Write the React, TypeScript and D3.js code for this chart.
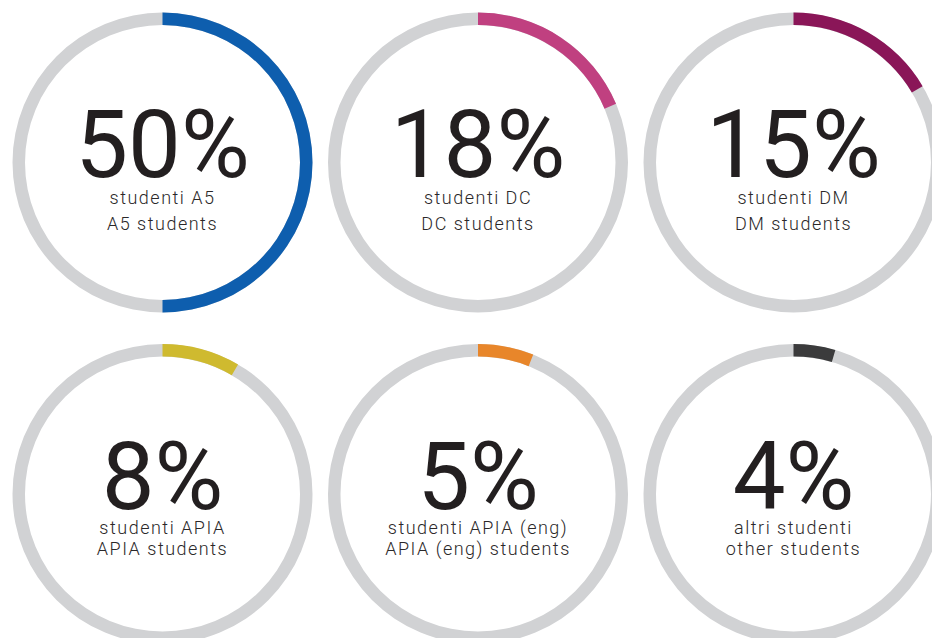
import React from "react";
import * as d3 from "d3";

const categories = ["A5", "DC", "DM", "APIA", "APIA (eng)", "altri"];
const percentValues = [50, 18, 15, 8, 5, 4];
// arc lengths as drawn in the reference (percent of full circle)
const arcShares = [50, 18.6, 16.5, 8.4, 6.0, 4.5];
const labelsIt = ["studenti A5", "studenti DC", "studenti DM", "studenti APIA", "studenti APIA (eng)", "altri studenti"];
const labelsEn = ["A5 students", "DC students", "DM students", "APIA students", "APIA (eng) students", "other students"];
const colors = ["#0e5eae", "#c04080", "#8a1658", "#cfba2f", "#e8862a", "#3b3b3c"];

const W = 932;
const H = 638;
const cols = [162.5, 478, 793.5];
const rows = [162.5, 494];
const outerR = 150;
const innerR = 137.5;
const track = "#d1d2d4";

export default function App() {
  const angle = d3.scaleLinear().domain([0, 100]).range([0, 2 * Math.PI]);
  const arc = d3.arc<any>().innerRadius(innerR).outerRadius(outerR);
  return (
    <svg width={W} height={H} style={{ position: "absolute", left: 0, top: 0, background: "#fff" }}>
      {categories.map((c, i) => {
        const cx = cols[i % 3];
        const cy = rows[Math.floor(i / 3)];
        const row = Math.floor(i / 3);
        const l1 = row === 0 ? 41 : 40;
        const l2 = row === 0 ? 67 : 61;
        return (
          <g key={c} transform={`translate(${cx},${cy})`}>
            <path d={arc({ startAngle: 0, endAngle: 2 * Math.PI }) as string} fill={track} />
            <path d={arc({ startAngle: 0, endAngle: angle(arcShares[i]) }) as string} fill={colors[i]} />
            <text
              x={0}
              y={14.5}
              textAnchor="middle"
              fontFamily="Roboto"
              fontWeight={400}
              fontSize={94}
              fill="#231f20"
            >
              {percentValues[i]}%
            </text>
            <text x={0} y={l1} textAnchor="middle" fontFamily="Roboto" fontWeight={300} fontSize={18} letterSpacing={1.5} fill="#2b2829">
              {labelsIt[i]}
            </text>
            <text x={0} y={l2} textAnchor="middle" fontFamily="Roboto" fontWeight={300} fontSize={18} letterSpacing={1.5} fill="#2b2829">
              {labelsEn[i]}
            </text>
          </g>
        );
      })}
    </svg>
  );
}
